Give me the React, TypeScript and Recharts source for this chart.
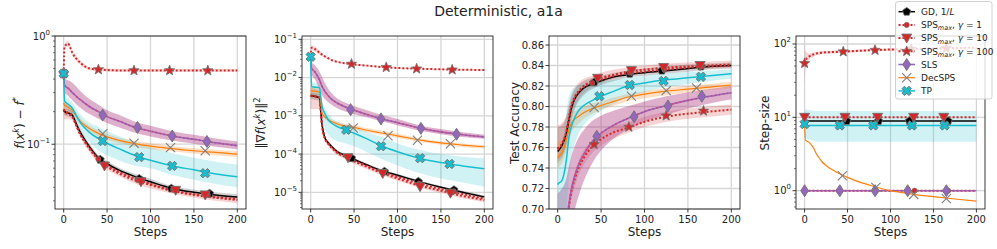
import React from "react";
import { Area, CartesianGrid, ComposedChart, Line, Scatter, XAxis, YAxis } from "recharts";

const FONT = "'DejaVu Sans', sans-serif";
const INK = "#222";

const STEPS = [0, 1, 5, 10, 13, 16, 20, 25, 30, 40, 50, 65, 80, 100, 125, 150, 175, 200];
const X_TICKS = [0, 50, 100, 150, 200];

// f(x^k) - f*
const LOSS_GD = [0.205, 0.2, 0.195, 0.185, 0.165, 0.145, 0.125, 0.108, 0.094, 0.075, 0.066, 0.057, 0.051, 0.045, 0.039, 0.036, 0.034, 0.0325];
const LOSS_GD_LO = [0.19, 0.185, 0.18, 0.172, 0.153, 0.135, 0.117, 0.101, 0.088, 0.071, 0.062, 0.054, 0.048, 0.042, 0.037, 0.034, 0.032, 0.031];
const LOSS_GD_HI = [0.22, 0.215, 0.21, 0.2, 0.178, 0.156, 0.134, 0.115, 0.1, 0.079, 0.07, 0.06, 0.054, 0.048, 0.041, 0.038, 0.036, 0.0345];
const LOSS_SPS1 = [0.21, 0.2, 0.19, 0.18, 0.16, 0.14, 0.12, 0.104, 0.091, 0.073, 0.064, 0.055, 0.049, 0.043, 0.0375, 0.0345, 0.0325, 0.031];
const LOSS_SPS10 = [0.21, 0.205, 0.195, 0.18, 0.16, 0.14, 0.12, 0.103, 0.09, 0.072, 0.062, 0.053, 0.047, 0.042, 0.037, 0.034, 0.032, 0.0305];
const LOSS_SPS10_LO = [0.17, 0.17, 0.17, 0.165, 0.148, 0.13, 0.112, 0.096, 0.084, 0.067, 0.058, 0.05, 0.044, 0.039, 0.035, 0.032, 0.03, 0.0285];
const LOSS_SPS10_HI = [0.245, 0.24, 0.23, 0.2, 0.175, 0.152, 0.13, 0.112, 0.098, 0.078, 0.067, 0.057, 0.05, 0.045, 0.04, 0.036, 0.034, 0.0325];
const LOSS_SPS100 = [0.45, 0.8, 0.85, 0.7, 0.64, 0.6, 0.56, 0.52, 0.5, 0.49, 0.485, 0.48, 0.48, 0.48, 0.48, 0.48, 0.48, 0.48];
const LOSS_SPS100_LO = [0.43, 0.76, 0.8, 0.66, 0.61, 0.57, 0.535, 0.5, 0.485, 0.475, 0.47, 0.468, 0.468, 0.468, 0.468, 0.468, 0.468, 0.468];
const LOSS_SPS100_HI = [0.47, 0.84, 0.9, 0.74, 0.67, 0.63, 0.585, 0.54, 0.515, 0.505, 0.5, 0.495, 0.495, 0.495, 0.495, 0.495, 0.495, 0.495];
const LOSS_SLS = [0.45, 0.35, 0.33, 0.3, 0.285, 0.27, 0.255, 0.237, 0.222, 0.2, 0.18, 0.162, 0.145, 0.132, 0.119, 0.111, 0.103, 0.097];
const LOSS_SLS_LO = [0.43, 0.3, 0.28, 0.255, 0.24, 0.228, 0.215, 0.2, 0.19, 0.172, 0.157, 0.142, 0.129, 0.118, 0.108, 0.101, 0.095, 0.09];
const LOSS_SLS_HI = [0.47, 0.41, 0.39, 0.37, 0.35, 0.33, 0.305, 0.28, 0.26, 0.232, 0.206, 0.185, 0.164, 0.148, 0.132, 0.122, 0.113, 0.106];
const LOSS_DEC = [0.24, 0.23, 0.22, 0.205, 0.19, 0.175, 0.16, 0.148, 0.139, 0.126, 0.117, 0.108, 0.102, 0.096, 0.091, 0.087, 0.084, 0.081];
const LOSS_DEC_LO = [0.225, 0.215, 0.205, 0.19, 0.177, 0.163, 0.15, 0.139, 0.131, 0.118, 0.11, 0.102, 0.096, 0.09, 0.086, 0.082, 0.079, 0.076];
const LOSS_DEC_HI = [0.255, 0.245, 0.235, 0.22, 0.203, 0.187, 0.17, 0.157, 0.147, 0.134, 0.124, 0.114, 0.108, 0.102, 0.096, 0.092, 0.089, 0.086];
const LOSS_TP = [0.45, 0.25, 0.235, 0.215, 0.195, 0.175, 0.155, 0.14, 0.128, 0.113, 0.102, 0.09, 0.08, 0.071, 0.063, 0.058, 0.053, 0.05];
const LOSS_TP_LO = [0.43, 0.22, 0.205, 0.185, 0.165, 0.147, 0.13, 0.115, 0.104, 0.088, 0.079, 0.07, 0.064, 0.06, 0.052, 0.047, 0.043, 0.04];
const LOSS_TP_HI = [0.47, 0.28, 0.265, 0.245, 0.225, 0.205, 0.185, 0.168, 0.158, 0.145, 0.132, 0.118, 0.106, 0.094, 0.083, 0.075, 0.069, 0.065];

const LOSS_GD_MARKS = [[42, 0.072], [87, 0.048], [124, 0.039], [168, 0.035]];
const LOSS_SPS1_MARKS = [[40, 0.073], [85, 0.047], [126, 0.038], [166, 0.034]];
const LOSS_SPS10_MARKS = [[47, 0.063], [89, 0.045], [129, 0.0375], [163, 0.034]];
const LOSS_SPS100_MARKS = [[0, 0.45], [40, 0.49], [81, 0.48], [122, 0.48], [166, 0.48]];
const LOSS_SLS_MARKS = [[0, 0.45], [45, 0.186], [85, 0.143], [125, 0.119], [165, 0.106]];
const LOSS_DEC_MARKS = [[45, 0.125], [81, 0.102], [123, 0.093], [163, 0.087]];
const LOSS_TP_MARKS = [[0, 0.45], [45, 0.107], [87, 0.076], [125, 0.063], [163, 0.054]];

// ||grad f(x^k)||^2
const GRAD_GD = [0.0033, 0.0033, 0.0032, 0.003, 0.0006, 0.00028, 0.0002, 0.00015, 0.000118, 9.2e-5, 7.2e-5, 5.2e-5, 3.8e-5, 2.8e-5, 1.9e-5, 1.35e-5, 1e-5, 7.6e-6];
const GRAD_GD_LO = [0.0027, 0.0027, 0.0026, 0.0025, 0.0005, 0.00025, 0.000182, 0.000137, 0.000108, 8.4e-5, 6.6e-5, 4.8e-5, 3.5e-5, 2.55e-5, 1.74e-5, 1.24e-5, 9.2e-6, 7e-6];
const GRAD_GD_HI = [0.004, 0.004, 0.0039, 0.0036, 0.0007, 0.00031, 0.00022, 0.000165, 0.00013, 0.0001, 7.9e-5, 5.7e-5, 4.15e-5, 3.05e-5, 2.07e-5, 1.47e-5, 1.09e-5, 8.3e-6];
const GRAD_SPS1 = [0.0034, 0.0033, 0.0032, 0.003, 0.00059, 0.000275, 0.000195, 0.000145, 0.000114, 8.8e-5, 6.8e-5, 4.9e-5, 3.55e-5, 2.55e-5, 1.7e-5, 1.22e-5, 9e-6, 6.9e-6];
const GRAD_SPS10 = [0.0035, 0.0034, 0.0033, 0.003, 0.00058, 0.00027, 0.00019, 0.00014, 0.00011, 8.4e-5, 6.4e-5, 4.6e-5, 3.3e-5, 2.3e-5, 1.5e-5, 1.1e-5, 8e-6, 6.3e-6];
const GRAD_SPS10_LO = [0.0015, 0.0015, 0.0015, 0.0015, 0.00048, 0.00023, 0.000165, 0.000122, 9.6e-5, 7.4e-5, 5.6e-5, 4e-5, 2.9e-5, 2e-5, 1.32e-5, 9.6e-6, 7e-6, 5.5e-6];
const GRAD_SPS10_HI = [0.0055, 0.0055, 0.005, 0.0045, 0.0007, 0.00032, 0.000225, 0.000165, 0.00013, 9.8e-5, 7.5e-5, 5.4e-5, 3.8e-5, 2.65e-5, 1.73e-5, 1.26e-5, 9.2e-6, 7.2e-6];
const GRAD_SPS100 = [0.035, 0.06, 0.055, 0.045, 0.04, 0.036, 0.032, 0.028, 0.026, 0.0235, 0.022, 0.0205, 0.019, 0.0178, 0.017, 0.0164, 0.016, 0.0158];
const GRAD_SPS100_LO = [0.033, 0.052, 0.048, 0.04, 0.036, 0.033, 0.03, 0.0265, 0.0248, 0.0225, 0.021, 0.0197, 0.0183, 0.0172, 0.0164, 0.0158, 0.0154, 0.0152];
const GRAD_SPS100_HI = [0.037, 0.07, 0.064, 0.051, 0.044, 0.039, 0.034, 0.0295, 0.0272, 0.0245, 0.023, 0.0213, 0.0197, 0.0184, 0.0176, 0.017, 0.0166, 0.0164];
const GRAD_SLS = [0.035, 0.0175, 0.014, 0.0088, 0.006, 0.0045, 0.0034, 0.0026, 0.0022, 0.0017, 0.0014, 0.00108, 0.00085, 0.00066, 0.00048, 0.00038, 0.00032, 0.00028];
const GRAD_SLS_LO = [0.033, 0.012, 0.009, 0.005, 0.0035, 0.0028, 0.0023, 0.0019, 0.0016, 0.0013, 0.0011, 0.0009, 0.00073, 0.00057, 0.00041, 0.00033, 0.00028, 0.00025];
const GRAD_SLS_HI = [0.037, 0.025, 0.021, 0.0145, 0.0105, 0.0075, 0.0052, 0.0037, 0.0029, 0.0022, 0.0018, 0.0014, 0.00108, 0.00082, 0.00057, 0.00045, 0.00037, 0.00032];
const GRAD_DEC = [0.0045, 0.0045, 0.0044, 0.0042, 0.0012, 0.00095, 0.0008, 0.00069, 0.00062, 0.00054, 0.0005, 0.00042, 0.00036, 0.0003, 0.000235, 0.000195, 0.000172, 0.000155];
const GRAD_DEC_LO = [0.0035, 0.0035, 0.0035, 0.0034, 0.001, 0.00082, 0.0007, 0.0006, 0.00054, 0.00047, 0.00044, 0.00037, 0.00032, 0.000265, 0.00021, 0.000175, 0.000154, 0.000139];
const GRAD_DEC_HI = [0.006, 0.006, 0.0058, 0.0055, 0.0014, 0.0011, 0.00092, 0.00079, 0.00071, 0.00062, 0.00057, 0.00048, 0.00041, 0.00034, 0.00026, 0.000217, 0.00019, 0.000172];
const GRAD_TP = [0.035, 0.0058, 0.0056, 0.0054, 0.0018, 0.0012, 0.0008, 0.00062, 0.00053, 0.00043, 0.00035, 0.00025, 0.00017, 0.000115, 7.8e-5, 6e-5, 4.9e-5, 4.1e-5];
const GRAD_TP_LO = [0.033, 0.0035, 0.0034, 0.0032, 0.0009, 0.0005, 0.00032, 0.00025, 0.00022, 0.00019, 0.00016, 0.000112, 7.8e-5, 5e-5, 3.2e-5, 2.3e-5, 1.8e-5, 1.4e-5];
const GRAD_TP_HI = [0.037, 0.0075, 0.0073, 0.007, 0.0026, 0.0017, 0.0012, 0.00085, 0.00072, 0.00058, 0.0005, 0.00038, 0.00029, 0.00019, 0.00013, 0.0001, 8.5e-5, 7.7e-5];

const GRAD_GD_MARKS = [[47, 7.8e-5], [85, 3.5e-5], [124, 1.9e-5], [165, 1.15e-5]];
const GRAD_SPS1_MARKS = [[42, 8.6e-5], [84, 3.4e-5], [125, 1.7e-5], [165, 1.05e-5]];
const GRAD_SPS10_MARKS = [[43, 8e-5], [83, 3.1e-5], [126, 1.4e-5], [161, 9.5e-6]];
const GRAD_SPS100_MARKS = [[47, 0.0226], [87, 0.0185], [122, 0.017], [163, 0.016]];
const GRAD_SLS_MARKS = [[46, 0.00145], [81, 0.00083], [127, 0.00047], [168, 0.00033]];
const GRAD_DEC_MARKS = [[49, 0.00048], [89, 0.0003], [123, 0.00023], [161, 0.000185]];
const GRAD_TP_MARKS = [[0, 0.035], [41, 0.00043], [81, 0.00016], [126, 7.8e-5], [160, 5.5e-5]];

// Test accuracy
const ACC_GD = [0.756, 0.757, 0.762, 0.774, 0.787, 0.799, 0.808, 0.814, 0.818, 0.822, 0.825, 0.829, 0.831, 0.833, 0.835, 0.837, 0.839, 0.84];
const ACC_GD_LO = [0.745, 0.746, 0.75, 0.762, 0.775, 0.787, 0.798, 0.806, 0.811, 0.817, 0.821, 0.825, 0.828, 0.83, 0.832, 0.834, 0.836, 0.837];
const ACC_GD_HI = [0.78, 0.78, 0.782, 0.79, 0.8, 0.81, 0.817, 0.822, 0.825, 0.828, 0.83, 0.833, 0.835, 0.837, 0.839, 0.841, 0.842, 0.843];
const ACC_SPS1 = [0.758, 0.759, 0.763, 0.775, 0.788, 0.8, 0.809, 0.815, 0.819, 0.823, 0.826, 0.83, 0.832, 0.834, 0.836, 0.838, 0.839, 0.84];
const ACC_SPS10 = [0.759, 0.76, 0.764, 0.776, 0.79, 0.801, 0.81, 0.816, 0.82, 0.825, 0.828, 0.831, 0.834, 0.836, 0.838, 0.839, 0.84, 0.841];
const ACC_SPS10_LO = [0.748, 0.749, 0.752, 0.764, 0.778, 0.79, 0.8, 0.808, 0.813, 0.819, 0.823, 0.827, 0.83, 0.832, 0.834, 0.836, 0.837, 0.838];
const ACC_SPS10_HI = [0.782, 0.782, 0.784, 0.792, 0.803, 0.812, 0.819, 0.824, 0.827, 0.83, 0.833, 0.836, 0.838, 0.84, 0.842, 0.843, 0.844, 0.845];
const ACC_SPS100 = [0.62, 0.63, 0.65, 0.68, 0.702, 0.718, 0.73, 0.742, 0.75, 0.761, 0.768, 0.775, 0.779, 0.785, 0.79, 0.793, 0.795, 0.797];
const ACC_SPS100_LO = [0.615, 0.625, 0.645, 0.675, 0.696, 0.711, 0.723, 0.735, 0.743, 0.755, 0.762, 0.769, 0.774, 0.78, 0.785, 0.788, 0.79, 0.792];
const ACC_SPS100_HI = [0.625, 0.635, 0.655, 0.686, 0.708, 0.725, 0.737, 0.749, 0.757, 0.767, 0.774, 0.781, 0.784, 0.79, 0.795, 0.798, 0.8, 0.802];
const ACC_SLS = [0.64, 0.645, 0.66, 0.685, 0.705, 0.72, 0.733, 0.745, 0.753, 0.766, 0.774, 0.782, 0.788, 0.795, 0.801, 0.806, 0.81, 0.8135];
const ACC_SLS_LO = [0.6, 0.6, 0.61, 0.64, 0.66, 0.68, 0.7, 0.715, 0.727, 0.745, 0.757, 0.769, 0.777, 0.785, 0.792, 0.798, 0.803, 0.807];
const ACC_SLS_HI = [0.715, 0.716, 0.72, 0.73, 0.742, 0.752, 0.762, 0.771, 0.777, 0.786, 0.791, 0.796, 0.8, 0.805, 0.81, 0.814, 0.817, 0.82];
const ACC_DEC = [0.75, 0.751, 0.755, 0.767, 0.778, 0.784, 0.788, 0.791, 0.794, 0.798, 0.801, 0.805, 0.809, 0.812, 0.815, 0.817, 0.819, 0.821];
const ACC_DEC_LO = [0.74, 0.741, 0.745, 0.757, 0.768, 0.775, 0.78, 0.784, 0.788, 0.793, 0.797, 0.801, 0.805, 0.808, 0.811, 0.814, 0.816, 0.818];
const ACC_DEC_HI = [0.765, 0.766, 0.768, 0.778, 0.788, 0.793, 0.796, 0.798, 0.8, 0.803, 0.805, 0.809, 0.812, 0.815, 0.818, 0.82, 0.822, 0.824];
const ACC_TP = [0.724, 0.725, 0.728, 0.748, 0.77, 0.781, 0.79, 0.797, 0.801, 0.806, 0.81, 0.815, 0.82, 0.823, 0.826, 0.828, 0.83, 0.832];
const ACC_TP_LO = [0.7, 0.7, 0.7, 0.7, 0.73, 0.75, 0.764, 0.775, 0.782, 0.79, 0.796, 0.803, 0.809, 0.814, 0.819, 0.822, 0.825, 0.827];
const ACC_TP_HI = [0.75, 0.752, 0.76, 0.795, 0.81, 0.816, 0.819, 0.821, 0.822, 0.823, 0.824, 0.826, 0.828, 0.83, 0.832, 0.834, 0.835, 0.836];

const ACC_GD_MARKS = [[42, 0.8236], [83, 0.832], [120, 0.835], [165, 0.839]];
const ACC_SPS1_MARKS = [[40, 0.823], [83, 0.833], [123, 0.836], [166, 0.839]];
const ACC_SPS10_MARKS = [[46, 0.8275], [85, 0.835], [122, 0.838], [164, 0.84]];
const ACC_SPS100_MARKS = [[42, 0.763], [82, 0.78], [125, 0.791], [168, 0.7957]];
const ACC_SLS_MARKS = [[45, 0.771], [88, 0.79], [127, 0.8006], [166, 0.81]];
const ACC_DEC_MARKS = [[42, 0.799], [85, 0.81], [125, 0.8155], [160, 0.818]];
const ACC_TP_MARKS = [[48, 0.81], [83, 0.821], [122, 0.825], [165, 0.829]];

// Step-size
const STEP_GD = [8.9, 8.9, 8.9, 8.9, 8.9, 8.9, 8.9, 8.9, 8.9, 8.9, 8.9, 8.9, 8.9, 8.9, 8.9, 8.9, 8.9, 8.9];
const STEP_SPS1 = [1, 1, 1, 1, 1, 1, 1, 1, 1, 1, 1, 1, 1, 1, 1, 1, 1, 1];
const STEP_SPS10 = [10, 10, 10, 10, 10, 10, 10, 10, 10, 10, 10, 10, 10, 10, 10, 10, 10, 10];
const STEP_SPS100 = [54.5, 60, 67, 72, 74, 75, 76, 77, 77.5, 78.2, 79, 81, 82.5, 84, 85.5, 86.8, 88, 89];
const STEP_SPS100_LO = [25, 45, 60, 67, 70, 71.5, 72.5, 73.5, 74, 75, 76, 78, 79.5, 81, 82.5, 84, 85, 86];
const STEP_SPS100_HI = [100, 80, 74, 77, 78, 79, 80, 80.5, 81, 81.5, 82, 84, 85.5, 87, 88.5, 89.8, 91, 92];
const STEP_SLS = [1, 1, 1, 1, 1, 1, 1, 1, 1, 1, 1, 1, 1, 1, 1, 1, 1, 1];
const STEP_DEC = [8, 4.9, 4.6, 3.9, 3.3, 2.9, 2.5, 2.2, 2.0, 1.72, 1.52, 1.3, 1.15, 1.0, 0.9, 0.83, 0.77, 0.72];
const STEP_TP = [8.1, 7.8, 7.75, 7.75, 7.75, 7.75, 7.75, 7.75, 7.75, 7.75, 7.75, 7.75, 7.75, 7.75, 7.75, 7.75, 7.75, 7.75];
const STEP_TP_LO = [5.4, 5.2, 5.0, 4.8, 4.7, 4.65, 4.65, 4.65, 4.65, 4.65, 4.65, 4.65, 4.65, 4.65, 4.65, 4.65, 4.65, 4.65];
const STEP_TP_HI = [12.8, 12.8, 12.6, 12.4, 12.3, 12.2, 12.2, 12.2, 12.2, 12.2, 12.2, 12.2, 12.2, 12.2, 12.2, 12.2, 12.2, 12.2];

const STEP_GD_MARKS = [[49, 8.9], [86, 8.9], [122, 8.9], [167, 8.9]];
const STEP_SPS1_MARKS = [[40, 1], [83, 1], [128, 1], [167, 1]];
const STEP_SPS10_MARKS = [[0, 10], [47, 10], [85, 10], [127, 10], [162, 10]];
const STEP_SPS100_MARKS = [[0, 54.5], [45, 78.6], [82, 82.5], [124, 85.5], [165, 87.5]];
const STEP_SLS_MARKS = [[0, 1], [41, 1], [82, 1], [120, 1], [165, 1]];
const STEP_DEC_MARKS = [[44, 1.6], [83, 1.11], [127, 0.89], [165, 0.78]];
const STEP_TP_MARKS = [[0, 8.1], [41, 7.75], [80, 7.75], [125, 7.75], [163, 7.75]];

type Kind = "pentagon" | "circle" | "tri" | "star" | "diamond" | "x" | "X";

const STYLE: Record<string, any> = {
  gd: { color: "#000000", width: 1.5, band: "#000000", bandOp: 0.18, marker: "pentagon", fill: "#000000" },
  sps1: { color: "#d62728", width: 2, dash: "2 2", band: "#d62728", bandOp: 0.2, marker: "circle", fill: "#d62728" },
  sps10: { color: "#d62728", width: 2, dash: "2 2", band: "#d62728", bandOp: 0.2, marker: "tri", fill: "#d62728" },
  sps100: { color: "#d62728", width: 2, dash: "2 2", band: "#d62728", bandOp: 0.2, marker: "star", fill: "#d62728" },
  sls: { color: "#9467bd", width: 1.6, band: "#a8307a", bandOp: 0.38, marker: "diamond", fill: "#9467bd", overlay: "#d0457a" },
  dec: { color: "#ff7f0e", width: 1.2, band: "#ff7f0e", bandOp: 0.25, marker: "x", fill: "#7f7f7f" },
  tp: { color: "#17becf", width: 1.5, band: "#17becf", bandOp: 0.2, marker: "X", fill: "#17becf" },
};

function poly(cx: number, cy: number, pts: number[][]) {
  return pts.map(([x, y]) => `${(cx + x).toFixed(2)},${(cy + y).toFixed(2)}`).join(" ");
}

function Marker({ kind, cx, cy, fill }: { kind: Kind; cx: number; cy: number; fill: string }) {
  const edge = "#707070";
  if (cx == null || cy == null || isNaN(cx) || isNaN(cy)) return <g />;
  if (kind === "pentagon") {
    const pts = [0, 1, 2, 3, 4].map((k) => {
      const a = ((-90 + 72 * k) * Math.PI) / 180;
      return [4.3 * Math.cos(a), 4.3 * Math.sin(a)];
    });
    return <polygon points={poly(cx, cy, pts)} fill={fill} stroke={edge} strokeWidth={0.8} />;
  }
  if (kind === "circle") return <circle cx={cx} cy={cy} r={2.6} fill={fill} stroke={edge} strokeWidth={0.6} />;
  if (kind === "tri")
    return <polygon points={poly(cx, cy, [[-5, -4], [5, -4], [0, 5]])} fill={fill} stroke={edge} strokeWidth={0.9} />;
  if (kind === "star") {
    const pts = Array.from({ length: 10 }, (_, k) => {
      const a = ((-90 + 36 * k) * Math.PI) / 180;
      const r = k % 2 === 0 ? 5.4 : 2.3;
      return [r * Math.cos(a), r * Math.sin(a)];
    });
    return <polygon points={poly(cx, cy, pts)} fill={fill} stroke={edge} strokeWidth={0.8} />;
  }
  if (kind === "diamond")
    return <polygon points={poly(cx, cy, [[0, -6], [3.9, 0], [0, 6], [-3.9, 0]])} fill={fill} stroke={edge} strokeWidth={0.9} />;
  if (kind === "x")
    return (
      <g stroke={fill} strokeWidth={1.1}>
        <line x1={cx - 4.6} y1={cy - 4.6} x2={cx + 4.6} y2={cy + 4.6} />
        <line x1={cx - 4.6} y1={cy + 4.6} x2={cx + 4.6} y2={cy - 4.6} />
      </g>
    );
  const a = 1.7;
  const r = 4.9;
  const plus = [[-a, -r], [a, -r], [a, -a], [r, -a], [r, a], [a, a], [a, r], [-a, r], [-a, a], [-r, a], [-r, -a], [-a, -a]];
  return (
    <polygon
      points={poly(0, 0, plus)}
      transform={`translate(${cx},${cy}) rotate(45)`}
      fill={fill}
      stroke={edge}
      strokeWidth={0.9}
    />
  );
}

type SeriesData = { id: string; mean: number[]; lo?: number[]; hi?: number[]; marks: number[][] };

type Panel = {
  left: number;
  right: number;
  log: boolean;
  domain: [number, number];
  majors: number[];
  minors: number[];
  labelX: number;
  label: React.ReactNode;
  series: SeriesData[];
};

function decadeMinors(lo: number, hi: number) {
  const out: number[] = [];
  for (let e = -7; e <= 3; e++) {
    for (let m = 2; m <= 9; m++) {
      const v = m * Math.pow(10, e);
      if (v > lo && v < hi) out.push(v);
    }
  }
  return out;
}

const supStyle: React.CSSProperties = { fontSize: "0.7em", verticalAlign: "0.55em", lineHeight: 0 };

const PANELS: Panel[] = [
  {
    left: 55,
    right: 246,
    log: true,
    domain: [0.0252, 1.0],
    majors: [0.1, 1],
    minors: decadeMinors(0.0252, 1.0),
    labelX: 20,
    label: (
      <span>
        <i>f</i>(<i>x</i>
        <sup style={supStyle}>
          <i>k</i>
        </sup>
        ) − <i>f</i>
        <sup style={supStyle}>*</sup>
      </span>
    ),
    series: [
      { id: "gd", mean: LOSS_GD, lo: LOSS_GD_LO, hi: LOSS_GD_HI, marks: LOSS_GD_MARKS },
      { id: "sps1", mean: LOSS_SPS1, marks: LOSS_SPS1_MARKS },
      { id: "sps10", mean: LOSS_SPS10, lo: LOSS_SPS10_LO, hi: LOSS_SPS10_HI, marks: LOSS_SPS10_MARKS },
      { id: "sps100", mean: LOSS_SPS100, lo: LOSS_SPS100_LO, hi: LOSS_SPS100_HI, marks: LOSS_SPS100_MARKS },
      { id: "sls", mean: LOSS_SLS, lo: LOSS_SLS_LO, hi: LOSS_SLS_HI, marks: LOSS_SLS_MARKS },
      { id: "dec", mean: LOSS_DEC, lo: LOSS_DEC_LO, hi: LOSS_DEC_HI, marks: LOSS_DEC_MARKS },
      { id: "tp", mean: LOSS_TP, lo: LOSS_TP_LO, hi: LOSS_TP_HI, marks: LOSS_TP_MARKS },
    ],
  },
  {
    left: 302,
    right: 493,
    log: true,
    domain: [3.66e-6, 0.122],
    majors: [1e-5, 1e-4, 1e-3, 1e-2, 1e-1],
    minors: decadeMinors(3.66e-6, 0.122),
    labelX: 261,
    label: (
      <span>
        ‖∇<i>f</i>(<i>x</i>
        <sup style={supStyle}>
          <i>k</i>
        </sup>
        )‖<sup style={supStyle}>2</sup>
      </span>
    ),
    series: [
      { id: "gd", mean: GRAD_GD, lo: GRAD_GD_LO, hi: GRAD_GD_HI, marks: GRAD_GD_MARKS },
      { id: "sps1", mean: GRAD_SPS1, marks: GRAD_SPS1_MARKS },
      { id: "sps10", mean: GRAD_SPS10, lo: GRAD_SPS10_LO, hi: GRAD_SPS10_HI, marks: GRAD_SPS10_MARKS },
      { id: "sps100", mean: GRAD_SPS100, lo: GRAD_SPS100_LO, hi: GRAD_SPS100_HI, marks: GRAD_SPS100_MARKS },
      { id: "sls", mean: GRAD_SLS, lo: GRAD_SLS_LO, hi: GRAD_SLS_HI, marks: GRAD_SLS_MARKS },
      { id: "dec", mean: GRAD_DEC, lo: GRAD_DEC_LO, hi: GRAD_DEC_HI, marks: GRAD_DEC_MARKS },
      { id: "tp", mean: GRAD_TP, lo: GRAD_TP_LO, hi: GRAD_TP_HI, marks: GRAD_TP_MARKS },
    ],
  },
  {
    left: 549,
    right: 740,
    log: false,
    domain: [0.7, 0.8688],
    majors: [0.7, 0.72, 0.74, 0.76, 0.78, 0.8, 0.82, 0.84, 0.86],
    minors: [],
    labelX: 515,
    label: <span>Test Accuracy</span>,
    series: [
      { id: "gd", mean: ACC_GD, lo: ACC_GD_LO, hi: ACC_GD_HI, marks: ACC_GD_MARKS },
      { id: "sps1", mean: ACC_SPS1, marks: ACC_SPS1_MARKS },
      { id: "sps10", mean: ACC_SPS10, lo: ACC_SPS10_LO, hi: ACC_SPS10_HI, marks: ACC_SPS10_MARKS },
      { id: "sps100", mean: ACC_SPS100, lo: ACC_SPS100_LO, hi: ACC_SPS100_HI, marks: ACC_SPS100_MARKS },
      { id: "sls", mean: ACC_SLS, lo: ACC_SLS_LO, hi: ACC_SLS_HI, marks: ACC_SLS_MARKS },
      { id: "dec", mean: ACC_DEC, lo: ACC_DEC_LO, hi: ACC_DEC_HI, marks: ACC_DEC_MARKS },
      { id: "tp", mean: ACC_TP, lo: ACC_TP_LO, hi: ACC_TP_HI, marks: ACC_TP_MARKS },
    ],
  },
  {
    left: 796,
    right: 985,
    log: true,
    domain: [0.563, 128.5],
    majors: [1, 10, 100],
    minors: decadeMinors(0.563, 128.5),
    labelX: 765,
    label: <span>Step-size</span>,
    series: [
      { id: "gd", mean: STEP_GD, marks: STEP_GD_MARKS },
      { id: "sps1", mean: STEP_SPS1, marks: STEP_SPS1_MARKS },
      { id: "sps10", mean: STEP_SPS10, marks: STEP_SPS10_MARKS },
      { id: "sps100", mean: STEP_SPS100, lo: STEP_SPS100_LO, hi: STEP_SPS100_HI, marks: STEP_SPS100_MARKS },
      { id: "sls", mean: STEP_SLS, marks: STEP_SLS_MARKS },
      { id: "dec", mean: STEP_DEC, marks: STEP_DEC_MARKS },
      { id: "tp", mean: STEP_TP, lo: STEP_TP_LO, hi: STEP_TP_HI, marks: STEP_TP_MARKS },
    ],
  },
];

const PLOT_TOP = 36;
const PLOT_BOTTOM = 209;
const YW = 52;

function XTick(props: any) {
  const { x, y, payload } = props;
  return (
    <g>
      <line x1={x} x2={x} y1={y} y2={y + 3.5} stroke={INK} strokeWidth={0.9} />
      <text x={x} y={y + 14} textAnchor="middle" fontSize={10} fontFamily={FONT} fill={INK}>
        {payload.value}
      </text>
    </g>
  );
}

function makeYTick(p: Panel) {
  return (props: any) => {
    const { x, y, payload } = props;
    const v = payload.value;
    const major = p.majors.some((m) => Math.abs(m - v) / m < 1e-6);
    let label: React.ReactNode = null;
    if (major) {
      if (p.log) {
        const e = Math.round(Math.log10(v));
        label = (
          <text x={x - 5} y={y + 3.5} textAnchor="end" fontSize={10} fontFamily={FONT} fill={INK}>
            10
            <tspan dy={-5} fontSize={7}>
              {e < 0 ? `−${-e}` : `${e}`}
            </tspan>
          </text>
        );
      } else {
        label = (
          <text x={x - 5} y={y + 3.5} textAnchor="end" fontSize={10} fontFamily={FONT} fill={INK}>
            {v.toFixed(2)}
          </text>
        );
      }
    }
    return (
      <g>
        <line x1={x} x2={x - (major ? 3.5 : 2)} y1={y} y2={y} stroke={INK} strokeWidth={major ? 0.9 : 0.6} />
        {label}
      </g>
    );
  };
}

function PanelChart({ p }: { p: Panel }) {
  const rows = STEPS.map((step, i) => {
    const r: Record<string, number> = { step };
    p.series.forEach((s) => {
      r[s.id] = s.mean[i];
      if (s.lo && s.hi) {
        r[s.id + "Lo"] = s.lo[i];
        r[s.id + "Hi"] = s.hi[i];
      }
    });
    return r;
  });
  const plotW = p.right - p.left;
  const ticks = [...p.majors, ...p.minors].sort((a, b) => a - b);
  const children: React.ReactNode[] = [];
  p.series.forEach((s) => {
    const st = STYLE[s.id];
    if (s.lo && s.hi) {
      children.push(
        <Area
          key={s.id + "band"}
          type="monotone"
          dataKey={(d: any) => [d[s.id + "Lo"], d[s.id + "Hi"]]}
          stroke="none"
          fill={st.band}
          fillOpacity={st.bandOp}
          isAnimationActive={false}
          activeDot={false}
        />
      );
    }
  });
  p.series.forEach((s) => {
    const st = STYLE[s.id];
    children.push(
      <Line
        key={s.id + "line"}
        type="monotone"
        dataKey={s.id}
        stroke={st.color}
        strokeWidth={st.width}
        strokeDasharray={st.dash}
        dot={false}
        activeDot={false}
        isAnimationActive={false}
      />
    );
    if (st.overlay) {
      // SLS is drawn with a dotted magenta pattern over the purple stroke
      children.push(
        <Line
          key={s.id + "dots"}
          type="monotone"
          dataKey={s.id}
          stroke={st.overlay}
          strokeWidth={1.6}
          strokeDasharray="1.6 2.4"
          dot={false}
          activeDot={false}
          isAnimationActive={false}
        />
      );
    }
    children.push(
      <Scatter
        key={s.id + "marks"}
        data={s.marks.map(([step, v]) => ({ step, v }))}
        dataKey="v"
        isAnimationActive={false}
        shape={(sp: any) => <Marker kind={st.marker} cx={sp.cx} cy={sp.cy} fill={st.fill} />}
      />
    );
  });
  return (
    <div style={{ position: "absolute", left: p.left - YW, top: 0 }}>
      <ComposedChart
        width={YW + plotW + 5}
        height={249}
        data={rows}
        margin={{ top: PLOT_TOP, right: 5, bottom: 249 - PLOT_BOTTOM - 30, left: 0 }}
      >
        <CartesianGrid stroke="#d6d6d6" strokeWidth={1.3} verticalValues={X_TICKS} horizontalValues={p.majors} />
        <XAxis
          type="number"
          dataKey="step"
          domain={[-10, 210]}
          ticks={X_TICKS}
          interval={0}
          allowDataOverflow
          height={30}
          axisLine={false}
          tickLine={false}
          tickSize={0}
          tickMargin={0}
          tick={(tp: any) => <XTick {...tp} />}
        />
        <YAxis
          type="number"
          scale={p.log ? "log" : "linear"}
          domain={p.domain}
          ticks={ticks}
          interval={0}
          allowDataOverflow
          width={YW}
          axisLine={false}
          tickLine={false}
          tickSize={0}
          tickMargin={0}
          tick={makeYTick(p)}
        />
        {children}
      </ComposedChart>
    </div>
  );
}

const LEGEND = [
  { id: "gd", dash: undefined, label: <>GD, 1/<tspan fontStyle="italic">L</tspan></> },
  { id: "sps1", dash: "2 2", gamma: "1" },
  { id: "sps10", dash: "2 2", gamma: "10" },
  { id: "sps100", dash: "2 2", gamma: "100" },
  { id: "sls", dash: undefined, label: <>SLS</> },
  { id: "dec", dash: undefined, label: <>DecSPS</> },
  { id: "tp", dash: undefined, label: <>TP</> },
];

function Overlay() {
  return (
    <svg width={997} height={249} style={{ position: "absolute", left: 0, top: 0, pointerEvents: "none" }}>
      {PANELS.map((p, i) => (
        <rect
          key={i}
          x={p.left}
          y={PLOT_TOP}
          width={p.right - p.left}
          height={PLOT_BOTTOM - PLOT_TOP}
          fill="none"
          stroke={INK}
          strokeWidth={0.9}
        />
      ))}
      <rect x={895.5} y={1.5} width={96.5} height={97.5} rx={2.5} fill="#ffffff" fillOpacity={0.8} stroke="#cccccc" strokeWidth={0.9} />
      {LEGEND.map((e, i) => {
        const st = STYLE[e.id];
        const y = 11.7 + i * 13.2;
        return (
          <g key={e.id}>
            <line x1={898.5} x2={915} y1={y} y2={y} stroke={st.color} strokeWidth={st.width} strokeDasharray={e.dash} />
            <Marker kind={st.marker} cx={906.7} cy={y} fill={st.fill} />
            <text x={921} y={y + 3.3} fontSize={9} fontFamily={FONT} fill={INK}>
              {e.gamma ? (
                <>
                  SPS
                  <tspan dy={2.2} fontSize={6.5} fontStyle="italic">
                    max
                  </tspan>
                  <tspan dy={-2.2}>, </tspan>
                  <tspan fontStyle="italic">γ</tspan>
                  {` = ${e.gamma}`}
                </>
              ) : (
                e.label
              )}
            </text>
          </g>
        );
      })}
    </svg>
  );
}

export default function App() {
  return (
    <div
      style={{
        position: "absolute",
        left: 0,
        top: 0,
        width: 997,
        height: 249,
        background: "#ffffff",
        overflow: "hidden",
        fontFamily: FONT,
        color: INK,
      }}
    >
      <div style={{ position: "absolute", left: 0, top: 3, width: 997, textAlign: "center", fontSize: 14 }}>
        Deterministic, a1a
      </div>
      {PANELS.map((p, i) => (
        <PanelChart key={i} p={p} />
      ))}
      {PANELS.map((p, i) => (
        <div
          key={"s" + i}
          style={{
            position: "absolute",
            left: (p.left + p.right) / 2,
            top: 232,
            transform: "translate(-50%, -50%)",
            fontSize: 12,
            whiteSpace: "nowrap",
          }}
        >
          Steps
        </div>
      ))}
      {PANELS.map((p, i) => (
        <div
          key={"y" + i}
          style={{
            position: "absolute",
            left: p.labelX,
            top: (PLOT_TOP + PLOT_BOTTOM) / 2,
            transform: "translate(-50%, -50%) rotate(-90deg)",
            fontSize: 12,
            whiteSpace: "nowrap",
          }}
        >
          {p.label}
        </div>
      ))}
      <Overlay />
    </div>
  );
}
